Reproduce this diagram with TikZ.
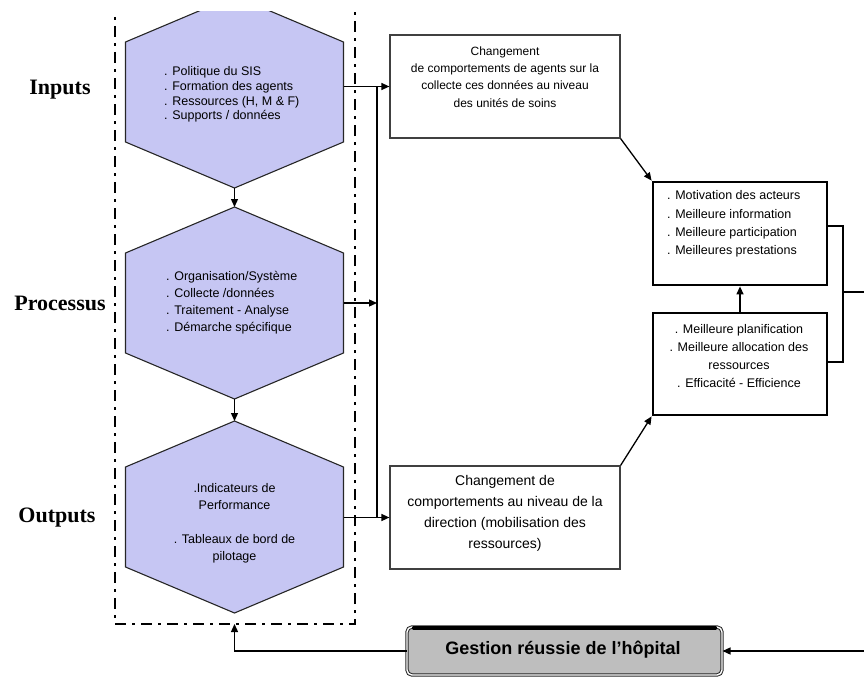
\documentclass[tikz,border=0pt]{standalone}
\usepackage{fontspec}
\setmainfont{Liberation Sans}
\newfontfamily\lblfont{Liberation Serif}
\usetikzlibrary{arrows.meta}
\definecolor{hexblue}{RGB}{198,198,243}
\definecolor{gestgray}{RGB}{190,190,190}
\tikzset{
  hexa/.style={fill=hexblue, draw=black!85, line width=1.1pt, line join=miter},
  frameline/.style={line width=2.2pt, dash pattern=on 11pt off 6pt on 3pt off 6pt},
  conn/.style={line width=1.3pt, draw=black},
  arr/.style={-{Triangle[length=8pt,width=7pt]}},
  thinbox/.style={draw=black!75, line width=1.2pt, fill=white, inner sep=0pt},
  thickbox/.style={draw=black, line width=2.8pt, fill=white, inner sep=0pt},
  sidelbl/.style={font=\lblfont\bfseries\fontsize{22}{22}\selectfont, inner sep=0pt},
  hextxt/.style={font=\fontsize{12.5}{14.7}\selectfont, inner sep=0pt, align=left, anchor=west},
  boxtxt/.style={font=\fontsize{12}{17.4}\selectfont, inner sep=0pt, align=center},
}
\begin{document}
\begin{tikzpicture}[x=1pt,y=-1pt]
\useasboundingbox (0,0) rectangle (864,677);
\begin{scope}
\clip (0,12) rectangle (864,677);
% hexagons
\draw[hexa] (234.5,-4) -- (343.5,42) -- (343.5,142) -- (234.5,188) -- (125.5,142) -- (125.5,42) -- cycle;
\draw[hexa] (234.5,207) -- (343.5,253) -- (343.5,353) -- (234.5,399) -- (125.5,353) -- (125.5,253) -- cycle;
\draw[hexa] (234.5,421) -- (343.5,467) -- (343.5,567) -- (234.5,613) -- (125.5,567) -- (125.5,467) -- cycle;
\coordinate (h1b) at (234.5,188);
\coordinate (h2t) at (234.5,207);
\coordinate (h2b) at (234.5,399);
\coordinate (h3t) at (234.5,421);
\coordinate (h1e) at (343.5,86.5);
\coordinate (h2e) at (343.5,303);
\coordinate (h3e) at (343.5,517.5);
% frame
\coordinate (ftl) at (115,0);
\coordinate (fbl) at (115,624);
\coordinate (fbr) at (355,624);
\coordinate (ftr) at (355,0);
\coordinate (framebot) at (234.5,624);
\draw[frameline] (ftl) -- (fbl) -- (fbr) -- (ftr);
% hex texts
\node[hextxt] (t1) at (164,94.5) {. Politique du SIS\\. Formation des agents\\. Ressources (H, M \& F)\\. Supports / données};
\node[hextxt, font=\fontsize{12.5}{17}\selectfont] (t2) at (166,302.5) {. Organisation/Système\\. Collecte /données\\. Traitement - Analyse\\. Démarche spécifique};
\node[hextxt, anchor=center, align=center, font=\fontsize{12.5}{17}\selectfont] (t3) at (234.5,523.5) {.Indicateurs de\\Performance\\[17pt]. Tableaux de bord de\\pilotage};
% side labels
\node[sidelbl] (lin) at (60,90) {Inputs};
\node[sidelbl] (lpr) at (60,303) {Processus};
\node[sidelbl] (lout) at (57,518) {Outputs};
% boxes
\node[thinbox, minimum width=230pt, minimum height=103pt] (b1) at (505,86.5) {};
\node[boxtxt] (b1t) at (505,77) {Changement\\de comportements de agents sur la\\collecte ces données au niveau\\des unités de soins};
\node[thinbox, minimum width=230pt, minimum height=103pt] (b3) at (505,517.5) {};
\node[boxtxt, font=\fontsize{14}{21}\selectfont] (b3t) at (505,513.5) {Changement de\\comportements au niveau de la\\direction (mobilisation des\\ressources)};
\node[thickbox, minimum width=174pt, minimum height=103pt] (m) at (740,233.5) {};
\node[hextxt, font=\fontsize{12.5}{18.3}\selectfont] (mt) at (667,224) {. Motivation des acteurs\\. Meilleure information\\. Meilleure participation\\. Meilleures prestations};
\node[thickbox, minimum width=174pt, minimum height=102pt] (p) at (740,364) {};
\node[boxtxt, font=\fontsize{12.5}{18}\selectfont] (pt) at (739,356) {. Meilleure planification\\. Meilleure allocation des\\ressources\\. Efficacité - Efficience};
% gestion
\node[draw=black!85, line width=1pt, double=white, double distance=1.4pt, rounded corners=5pt, fill=gestgray,
      minimum width=315pt, minimum height=48pt, inner sep=0pt] (g) at (564.5,651) {};
\draw[line width=3.2pt, line cap=round] ([xshift=7pt,yshift=-1.5pt]g.north west) -- ([xshift=-7pt,yshift=-1.5pt]g.north east);
\node[font=\bfseries\fontsize{18}{18}\selectfont, inner sep=0pt] (gt) at (563,650) {Gestion réussie de l’hôpital};
% connectors
\draw[conn,arr] (h1b) -- (h2t);
\draw[conn,arr] (h2b) -- (h3t);
\coordinate (vtop) at (377,86.5);
\coordinate (vmid) at (377,303);
\coordinate (vbot) at (377,517.5);
\draw[conn,arr] (h1e) -- (b1.west);
\draw[conn] (vtop) -- (vbot);
\draw[conn,arr] (h2e) -- (vmid);
\draw[conn,arr] (h3e) -- (b3.west);
\draw[conn,arr] (b1.south east) -- (m.north west);
\draw[conn,arr] (b3.north east) -- (p.south west);
\draw[conn,arr] (p.north) -- (m.south);
\coordinate (br1) at (843,226);
\coordinate (br2) at (843,362);
\coordinate (brm) at (843,292);
\coordinate (far1) at (900,292);
\coordinate (far2) at (900,651);
\draw[conn] (m.east |- br1) -- (br1) -- (br2) -- (p.east |- br2);
\draw[conn,arr] (brm) -- (far1) -- (far2) -- (g.east);
\draw[conn,arr] (g.west) -| (framebot);
\end{scope}
\end{tikzpicture}
\end{document}
